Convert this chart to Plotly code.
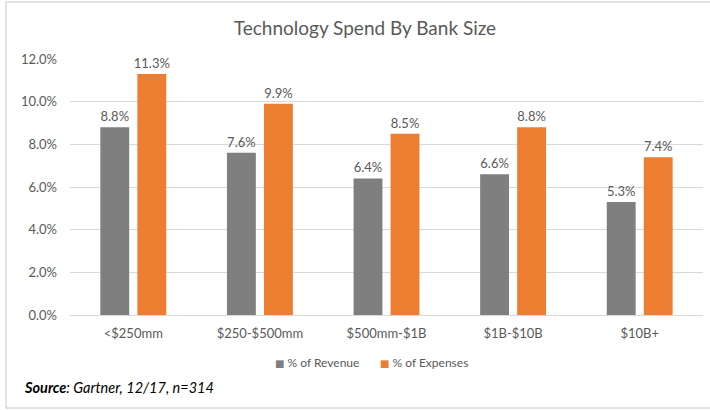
import plotly.graph_objects as go

# Technology spend by bank asset size (Gartner survey)
bank_sizes = ["<$250mm", "$250-$500mm", "$500mm-$1B", "$1B-$10B", "$10B+"]
pct_of_revenue = [8.8, 7.6, 6.4, 6.6, 5.3]
pct_of_expenses = [11.3, 9.9, 8.5, 8.8, 7.4]
y_ticks = [0, 2, 4, 6, 8, 10, 12]
y_tick_labels = [f"{v:.1f}%" for v in y_ticks]

FONT = "Lato"
TEXT_GRAY = "#595959"
GRAY = "#7f7f7f"
ORANGE = "#ed7d31"

series = [
    ("% of Revenue", pct_of_revenue, GRAY),
    ("% of Expenses", pct_of_expenses, ORANGE),
]

fig = go.Figure()
for name, values, color in series:
    fig.add_trace(go.Bar(
        x=bank_sizes, y=values, name=name,
        marker=dict(color=color, line=dict(width=0)),
        texttemplate="%{y:.1f}%", textposition="outside",
        constraintext="none",
        textfont=dict(size=13, color=TEXT_GRAY, family=FONT),
        cliponaxis=False, showlegend=False,
    ))

fig.update_layout(
    width=710, height=410,
    margin=dict(l=70, r=7, t=59, b=95),
    paper_bgcolor="white", plot_bgcolor="white",
    font=dict(family=FONT, color=TEXT_GRAY, size=11),
    barmode="group", bargap=0.415, bargroupgap=0.22,
    title=dict(
        text="Technology Spend By Bank Size",
        font=dict(family=FONT, size=19, color=TEXT_GRAY),
        x=(365 / 710), xanchor="center", y=1 - 28 / 410, yanchor="middle",
    ),
    uniformtext=dict(mode=False),
)

fig.update_yaxes(
    range=[0, 12], tickmode="array", tickvals=y_ticks, ticktext=y_tick_labels,
    showgrid=True, gridcolor="#d9d9d9", gridwidth=1,
    zeroline=True, zerolinecolor="#d9d9d9", zerolinewidth=1,
    showline=False, ticks="", ticklabelstandoff=12,
    tickfont=dict(size=13, color=TEXT_GRAY, family=FONT),
)
fig.update_xaxes(
    showgrid=False, showline=False, ticks="", ticklabelstandoff=9,
    tickfont=dict(size=13, color=TEXT_GRAY, family=FONT),
)

# Compact legend keys under the axis: a coloured square followed by the series name
legend_x = [273, 378]
for (name, _, color), px in zip(series, legend_x):
    fig.add_annotation(
        xref="paper", yref="paper",
        x=(px - 70) / 633, y=-(362 - 315) / 256,
        xanchor="left", yanchor="middle", showarrow=False,
        text=f'<span style="color:{color};font-family:DejaVu Sans;font-size:10px">■</span> {name}',
        font=dict(family=FONT, size=12, color=TEXT_GRAY),
    )

# Source note under the legend
fig.add_annotation(
    xref="paper", yref="paper",
    x=(22 - 70) / 633, y=-(387 - 315) / 256,
    xanchor="left", yanchor="middle", showarrow=False,
    text="<b><i>Source</i></b><i>: Gartner, 12/17, n=314</i>",
    font=dict(family=FONT, size=14.5, color="#000000"),
)

# Light frame around the chart
fig.add_shape(
    type="rect", xref="paper", yref="paper",
    x0=(6 - 70) / 633, x1=(712 - 70) / 633,
    y0=-(408 - 315) / 256, y1=1 + (59 - 2) / 256,
    line=dict(color="#d9d9d9", width=1.5), fillcolor="rgba(0,0,0,0)",
    layer="below",
)

fig.write_html("out.html")
